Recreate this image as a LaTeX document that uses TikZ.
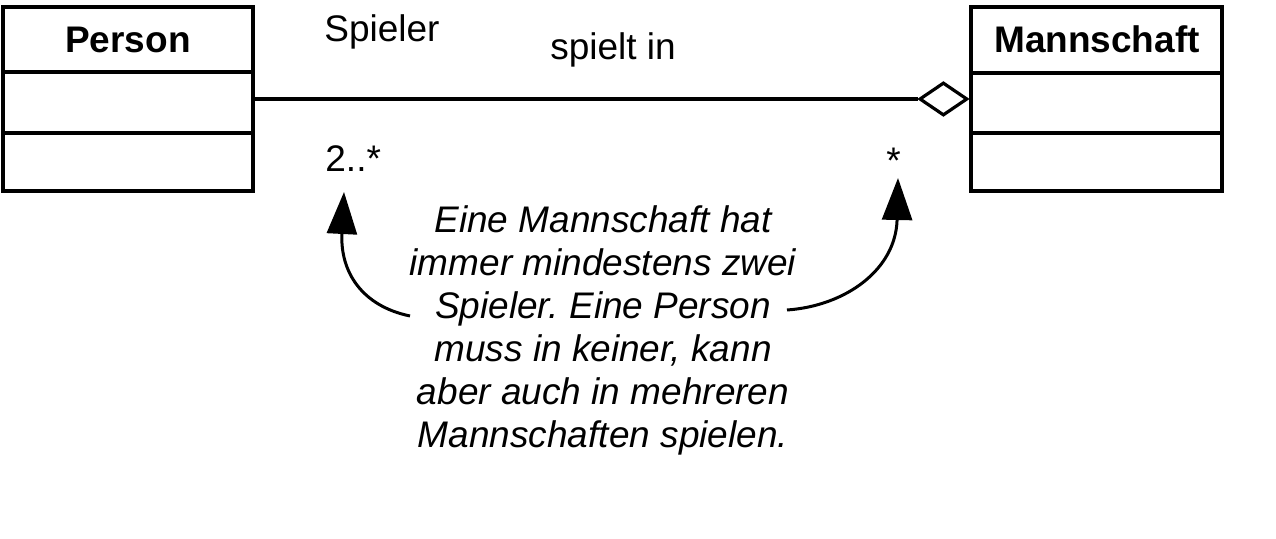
\documentclass[tikz,border=0pt]{standalone}
\usepackage{fontspec}
\setmainfont{Liberation Sans}
\usetikzlibrary{shapes.geometric,arrows.meta}
\frenchspacing
\begin{document}
\begin{tikzpicture}[x=0.5pt,y=-0.5pt,
  classbox/.style={draw, line width=2pt, minimum width=125pt, minimum height=92pt, inner sep=0pt},
  classname/.style={font=\fontsize{18.5}{22}\selectfont\bfseries, inner sep=0pt, anchor=base},
  lbl/.style={font=\fontsize{18.5}{22}\selectfont, inner sep=0pt},
  notetext/.style={font=\fontsize{18.5}{21.5}\selectfont\itshape, inner sep=0pt, align=center},
  agg/.style={draw, line width=1.6pt, shape=diamond, fill=white, minimum width=24pt, minimum height=16.5pt, inner sep=0pt, aspect=1.45},
  assoc/.style={line width=1.6pt},
  divider/.style={line width=2pt},
  notearrow/.style={line width=1.5pt, -{Triangle[length=21pt,width=15pt]}}
]
\useasboundingbox (0,0) rectangle (1276,539);

% classes
\node[classbox] (person) at (128,99) {};
\node[classname] (personname) at (128,53) {Person};
\draw[divider] (person.west |- 0,72) -- (person.east |- 0,72);
\draw[divider] (person.west |- 0,133) -- (person.east |- 0,133);

\node[classbox, minimum width=125.5pt] (mann) at (1096.5,99) {};
\node[classname] (mannname) at (1097,53) {Mannschaft};
\draw[divider] (mann.west |- 0,73) -- (mann.east |- 0,73);
\draw[divider] (mann.west |- 0,133) -- (mann.east |- 0,133);

% association with aggregation diamond
\node[agg, anchor=east] (dia) at (mann.west) {};
\draw[assoc] (person.east) -- (dia.west);

% labels
\node[lbl] (role) at (382,32) {Spieler};
\node[lbl] (assocname) at (613,50) {spielt in};
\node[lbl, anchor=base west] (m1) at (325,172) {2..*};
\node[lbl, anchor=base west] (m2) at (886,174) {*};

% note
\node[notetext, anchor=base] (note) at (603,448) {Eine Mannschaft hat\\immer mindestens zwei\\Spieler. Eine Person\\muss in keiner, kann\\aber auch in mehreren\\Mannschaften spielen.};

\coordinate (nl) at (410,316);
\coordinate (nr) at (787,310);
\coordinate (tl) at (344,192);
\coordinate (tr) at (898,178);
\draw[notearrow] (nl) .. controls (362,306) and (340,272) .. (tl);
\draw[notearrow] (nr) .. controls (845,306) and (896,270) .. (tr);
\end{tikzpicture}
\end{document}
